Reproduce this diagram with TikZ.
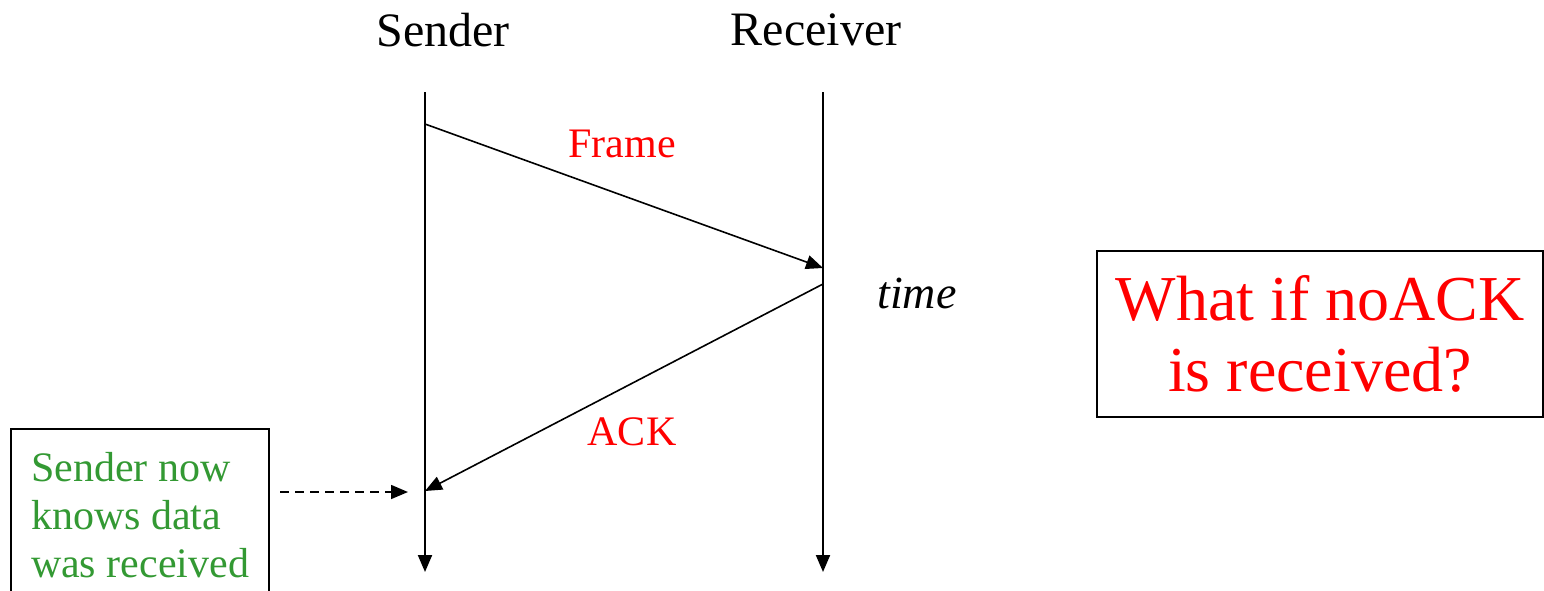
\documentclass[tikz,border=0pt]{standalone}
\usepackage{fontspec}
\setmainfont{Liberation Serif}
\usetikzlibrary{arrows.meta}
\definecolor{notegreen}{RGB}{51,153,51}

\begin{document}
\begin{tikzpicture}[x=1pt,y=-1pt,>={Triangle[length=17pt,width=14pt]},line width=2pt,
    party/.style={font=\fontsize{48}{56}\selectfont},
    msg label/.style={text=red,font=\fontsize{42}{48}\selectfont},
    note box/.style={draw,line width=2pt,align=left,text=notegreen,font=\fontsize{42}{48}\selectfont,inner xsep=20pt,inner ysep=23pt},
    ask box/.style={draw,line width=2pt,align=center,text=red,font=\fontsize{64}{71}\selectfont,minimum width=446pt,minimum height=166pt,inner sep=0pt}]
    \useasboundingbox (0,0) rectangle (1544,590);

    % the two parties and their time lines
    \node[party] (snd) at (443,30) {Sender};
    \node[party] (rcv) at (816,30) {Receiver};
    \coordinate (snd top) at (425,92);
    \coordinate (snd end) at (425,572);
    \coordinate (rcv top) at (823,92);
    \coordinate (rcv end) at (823,572);

    \coordinate (frm out) at (425,124);
    \coordinate (frm in) at (823,268);
    \coordinate (ack out) at (823,284);
    \coordinate (ack in) at (425,491);

    \node[msg label] (frm) at (622,144) {Frame};
    \node[msg label] (ack) at (632,432) {ACK};
    \node[font=\fontsize{46}{52}\selectfont\itshape] (time) at (917,293) {time};

    \node[note box,anchor=north west] (note) at (10,428) {Sender now\\knows data\\was received};
    \coordinate (dash start) at (280,492);
    \coordinate (dash end) at (408,492);

    \node[ask box] (ask) at (1320,334) {What if noACK\\is received?};

    \path[->]
        (snd top) edge (snd end)
        (rcv top) edge (rcv end)
        (frm out) edge[line width=1.6pt] (frm in)
        (ack out) edge[line width=1.6pt] (ack in)
        (dash start) edge[line width=1.6pt,dash pattern=on 9pt off 6pt] (dash end)
        ;
\end{tikzpicture}
\end{document}
